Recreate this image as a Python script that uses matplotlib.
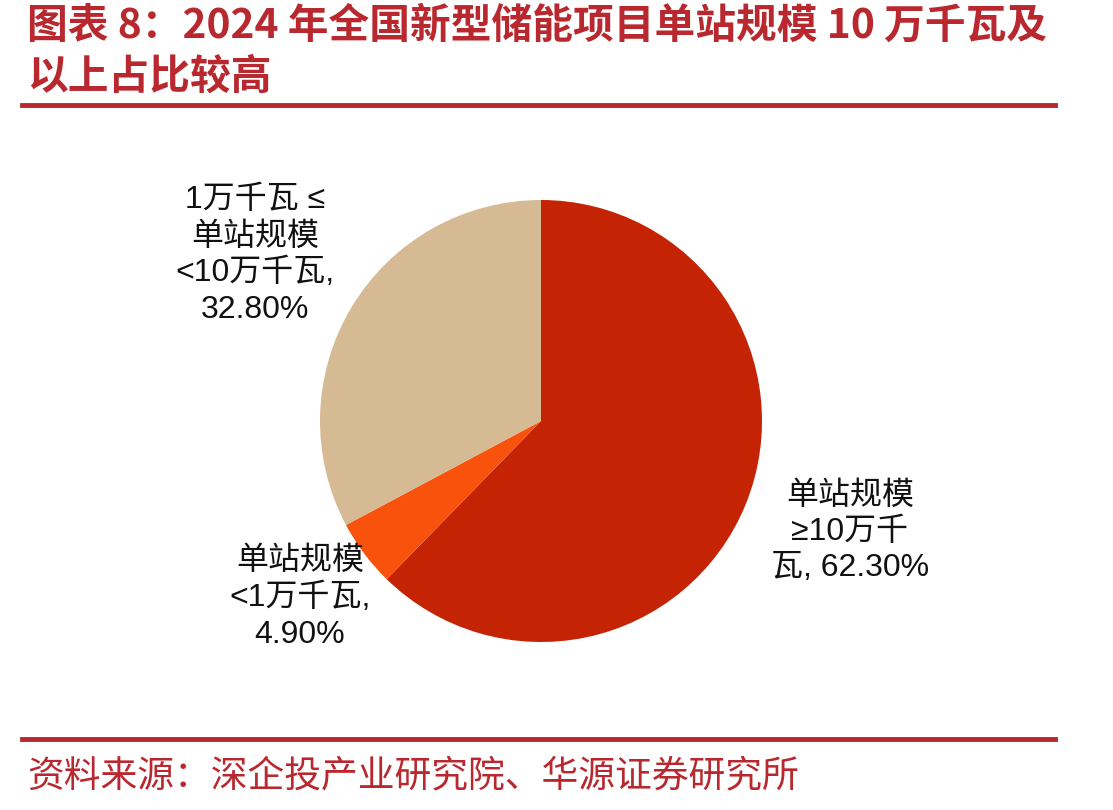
import matplotlib
matplotlib.use("Agg")
import matplotlib.pyplot as plt
from matplotlib.lines import Line2D

plt.rcParams['font.family'] = ['Liberation Sans', 'Noto Sans CJK SC', 'DejaVu Sans']

title_lines = ["图表 8：2024 年全国新型储能项目单站规模 10 万千瓦及", "以上占比较高"]
source = "资料来源：深企投产业研究院、华源证券研究所"
categories = ["单站规模\n≥10万千\n瓦, 62.30%", "单站规模\n<1万千瓦,\n4.90%", "1万千瓦 ≤\n单站规模\n<10万千瓦,\n32.80%"]
values = [62.30, 4.90, 32.80]
colors = ["#C42404", "#F8520C", "#D6BA94"]

W, H = 1113, 810
fig = plt.figure(figsize=(W / 100, H / 100), dpi=100)
fig.patch.set_facecolor("white")

red = "#B8282E"
# title
fig.text(27 / W, 1 - 26 / H, title_lines[0], fontsize=29.3, fontweight='bold', color=red,
         family=['Noto Sans CJK SC'], va='center', ha='left')
fig.text(27 / W, 1 - 77 / H, title_lines[1], fontsize=29.3, fontweight='bold', color=red,
         family=['Noto Sans CJK SC'], va='center', ha='left')
fig.add_artist(Line2D([22 / W, 1055 / W], [1 - 105 / H, 1 - 105 / H], color=red, lw=3.5))
fig.add_artist(Line2D([22 / W, 1055 / W], [1 - 739 / H, 1 - 739 / H], color=red, lw=3.5))
fig.text(27 / W, 1 - 776 / H, source, fontsize=26.5, color=red,
         family=['Noto Sans CJK SC'], fontweight='light', va='center', ha='left')

# pie
cx, cy, r = 541, 421, 221
ax = fig.add_axes([(cx - r) / W, (H - cy - r) / H, 2 * r / W, 2 * r / H])
ax.pie(values, colors=colors, startangle=90, counterclock=False, radius=1,
       wedgeprops=dict(linewidth=0))
ax.set_xlim(-1, 1)
ax.set_ylim(-1, 1)
ax.set_aspect('equal')
ax.axis('off')

label_pos = [(850, 532), (300, 598), (255, 255)]
for txt, (x, y) in zip(categories, label_pos):
    fig.text(x / W, 1 - y / H, txt, fontsize=23, color='#111111', ha='center', va='center',
             linespacing=1.28)

fig.savefig("out.png", dpi=100, facecolor="white")
